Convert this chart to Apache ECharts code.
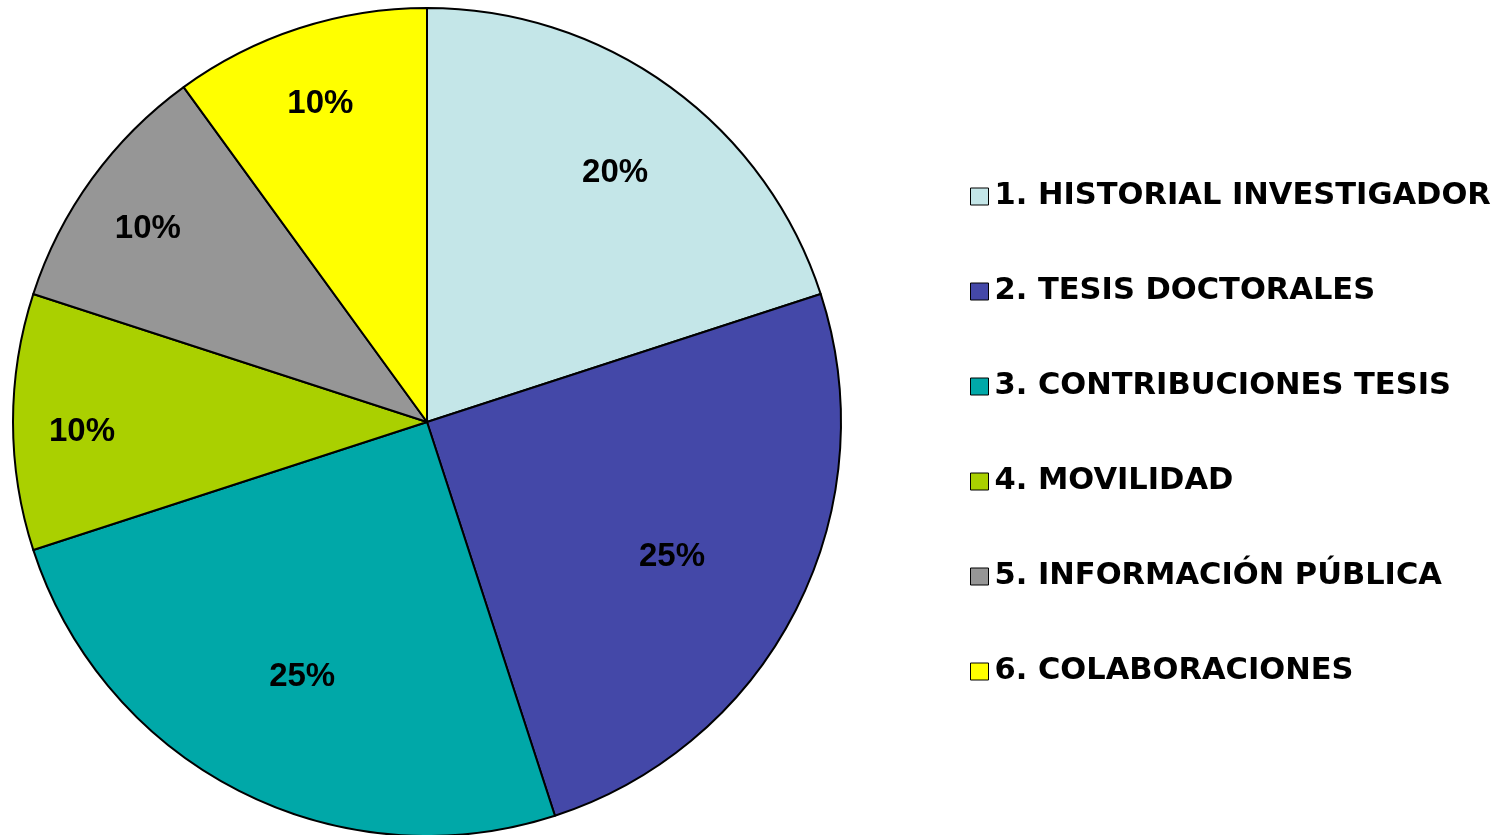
<!DOCTYPE html>
<html>
<head>
<meta charset="utf-8">
<script src="https://cdn.jsdelivr.net/npm/echarts@6/dist/echarts.min.js"></script>
<style>
html,body{margin:0;padding:0;background:#fff;}
#main{width:1499px;height:835px;}
</style>
</head>
<body>
<div id="main"></div>
<script>
var categories = ['1. HISTORIAL INVESTIGADOR','2. TESIS DOCTORALES','3. CONTRIBUCIONES TESIS','4. MOVILIDAD','5. INFORMACIÓN PÚBLICA','6. COLABORACIONES'];
var values = [20, 25, 25, 10, 10, 10];
var sliceColors = ['#C4E6E8','#4448A8','#00A8A8','#AAD000','#969696','#FFFF00'];

var pieData = categories.map(function(c, i){
	return {name: c, value: values[i], itemStyle: {color: sliceColors[i]}};
});

// transparent ring carrying the percent labels; bigger slices sit on an inner ring
var labelRing = function(radius, pick){
	return {
		type: 'pie',
		center: [427, 422],
		radius: radius,
		startAngle: 90,
		clockwise: true,
		silent: true,
		legendHoverLink: false,
		itemStyle: {color: 'transparent', borderWidth: 0},
		label: {
			show: true,
			position: 'inside',
			offset: [0, 10],
			formatter: function(p){ return p.value + '%'; },
			fontFamily: 'Liberation Sans, Arial',
			fontWeight: 'bold',
			fontSize: 33,
			color: '#000'
		},
		labelLine: {show: false},
		emphasis: {disabled: true},
		data: values.map(function(v, i){
			return {name: 'l' + i, value: v, label: {show: pick(v)}};
		})
	};
};

var chart = echarts.init(document.getElementById('main'));
var option = {
	animation: false,
	legend: {
		orient: 'vertical',
		left: 965,
		top: 176,
		itemWidth: 18,
		itemHeight: 17,
		itemGap: 64,
		icon: 'rect',
		itemStyle: {borderColor: '#000', borderWidth: 1},
		textStyle: {
			fontFamily: 'DejaVu Sans',
			fontWeight: 'bold',
			fontSize: 30.5,
			lineHeight: 31,
			padding: [0, 0, 0, 1],
			color: '#000'
		},
		data: categories
	},
	series: [
		{
			name: 'pie',
			type: 'pie',
			center: [427, 422],
			radius: 414,
			startAngle: 90,
			clockwise: true,
			label: {show: false},
			labelLine: {show: false},
			itemStyle: {borderColor: '#000', borderWidth: 2},
			emphasis: {disabled: true},
			data: pieData
		},
		labelRing([130, 414], function(v){ return v >= 25; }),
		labelRing([220, 414], function(v){ return v >= 15 && v < 25; }),
		labelRing([270, 414], function(v){ return v < 15; })
	]
};
chart.setOption(option);
</script>
</body>
</html>
